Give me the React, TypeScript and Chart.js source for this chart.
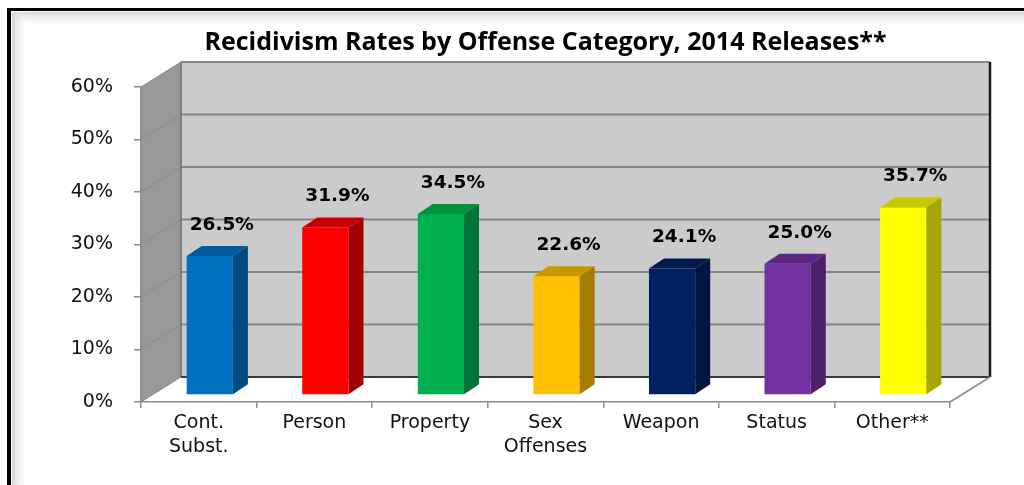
import { useEffect, useRef } from 'react';
import { Chart, registerables } from 'chart.js';

Chart.register(...registerables);

const titleText = 'Recidivism Rates by Offense Category, 2014 Releases**';
const categories: (string | string[])[] = [['Cont.', 'Subst.'], 'Person', 'Property', ['Sex', 'Offenses'], 'Weapon', 'Status', 'Other**'];
const rates = [26.5, 31.9, 34.5, 22.6, 24.1, 25.0, 35.7];
const frontColors = ['#0070C0', '#FF0000', '#00B050', '#FFC000', '#002060', '#7030A0', '#FFFF00'];
const sideColors = ['#004A80', '#A00000', '#007535', '#A67C00', '#00153F', '#4A2069', '#A6A600'];
const topColors = ['#005A9C', '#C40000', '#009040', '#C99700', '#001A50', '#5A2783', '#C8C800'];
const yTicks = [0, 10, 20, 30, 40, 50, 60];

// 3D geometry (pixels)
const WALL_DX = 40;
const WALL_DY = 25;
const BAR_SX = 11;
const BAR_SY = 7;
const BAR_DX = 15;
const BAR_DY = 10;

const poly = (ctx: CanvasRenderingContext2D, pts: number[][]) => {
  ctx.beginPath();
  ctx.moveTo(pts[0][0], pts[0][1]);
  for (let i = 1; i < pts.length; i++) ctx.lineTo(pts[i][0], pts[i][1]);
  ctx.closePath();
};

const threeD = {
  id: 'threeD',
  beforeDraw(chart: any) {
    const { ctx, chartArea: a, scales } = chart;
    const y = scales.y;
    const W = chart.width;
    const H = chart.height;
    ctx.save();
    ctx.fillStyle = '#ffffff';
    ctx.fillRect(0, 0, W, H);
    // inner glow of frame
    const gTop = ctx.createLinearGradient(0, 12, 0, 28);
    gTop.addColorStop(0, '#d6d6d6');
    gTop.addColorStop(1, 'rgba(255,255,255,0)');
    ctx.fillStyle = gTop;
    ctx.fillRect(12, 12, W - 12, 16);
    const gLeft = ctx.createLinearGradient(12, 0, 28, 0);
    gLeft.addColorStop(0, '#d6d6d6');
    gLeft.addColorStop(1, 'rgba(255,255,255,0)');
    ctx.fillStyle = gLeft;
    ctx.fillRect(12, 12, 16, H - 12);
    // black frame lines
    ctx.fillStyle = '#000000';
    ctx.fillRect(7, 8, W - 7, 3);
    ctx.fillRect(7, 8, 4, H - 8);

    const L = a.left;
    const R = a.right;
    const T = y.getPixelForValue(60);
    const B = y.getPixelForValue(0);
    // back wall
    ctx.fillStyle = '#cbcbcb';
    ctx.fillRect(L + WALL_DX, T - WALL_DY, R - L, B - T);
    // side wall
    poly(ctx, [[L, B], [L, T], [L + WALL_DX, T - WALL_DY], [L + WALL_DX, B - WALL_DY]]);
    ctx.fillStyle = '#989898';
    ctx.fill();
    // floor
    poly(ctx, [[L, B], [R, B], [R + WALL_DX, B - WALL_DY], [L + WALL_DX, B - WALL_DY]]);
    ctx.fillStyle = '#ffffff';
    ctx.fill();
    // grid lines
    yTicks.forEach((v) => {
      const py = y.getPixelForValue(v);
      ctx.strokeStyle = '#868686';
      ctx.lineWidth = 2;
      ctx.beginPath();
      ctx.moveTo(L + WALL_DX, py - WALL_DY);
      ctx.lineTo(R + WALL_DX, py - WALL_DY);
      ctx.stroke();
      ctx.strokeStyle = '#8a8a8a';
      ctx.lineWidth = 1;
      ctx.beginPath();
      ctx.moveTo(L, py);
      ctx.lineTo(L + WALL_DX, py - WALL_DY);
      ctx.stroke();
    });
    // back wall edges
    ctx.strokeStyle = '#6e6e6e';
    ctx.lineWidth = 1.5;
    ctx.beginPath();
    ctx.moveTo(L + WALL_DX, T - WALL_DY);
    ctx.lineTo(L + WALL_DX, B - WALL_DY);
    ctx.stroke();
    ctx.strokeStyle = '#1a1a1a';
    ctx.lineWidth = 2.5;
    ctx.beginPath();
    ctx.moveTo(R + WALL_DX, T - WALL_DY);
    ctx.lineTo(R + WALL_DX, B - WALL_DY);
    ctx.stroke();
    ctx.strokeStyle = '#3a3a3a';
    ctx.lineWidth = 2;
    ctx.beginPath();
    ctx.moveTo(L + WALL_DX, B - WALL_DY);
    ctx.lineTo(R + WALL_DX, B - WALL_DY);
    ctx.stroke();
    // floor right edge
    ctx.strokeStyle = '#8c8c8c';
    ctx.lineWidth = 1.5;
    ctx.beginPath();
    ctx.moveTo(R, B);
    ctx.lineTo(R + WALL_DX, B - WALL_DY);
    ctx.stroke();
    ctx.restore();
  },
  beforeDatasetsDraw(chart: any) {
    chart.ctx.save();
    chart.ctx.translate(BAR_SX, -BAR_SY);
  },
  afterDatasetsDraw(chart: any) {
    const ctx = chart.ctx;
    const meta = chart.getDatasetMeta(0);
    meta.data.forEach((bar: any, i: number) => {
      const { x, y, width, base } = bar.getProps(['x', 'y', 'width', 'base'], true);
      const l = x - width / 2;
      const r = x + width / 2;
      poly(ctx, [[r, base], [r, y], [r + BAR_DX, y - BAR_DY], [r + BAR_DX, base - BAR_DY]]);
      ctx.fillStyle = sideColors[i];
      ctx.fill();
      poly(ctx, [[l, y], [r, y], [r + BAR_DX, y - BAR_DY], [l + BAR_DX, y - BAR_DY]]);
      ctx.fillStyle = topColors[i];
      ctx.fill();
    });
    ctx.restore();
    ctx.save();
    ctx.font = 'bold 18.5px "DejaVu Sans"';
    ctx.fillStyle = '#000000';
    ctx.textAlign = 'center';
    ctx.textBaseline = 'middle';
    meta.data.forEach((bar: any, i: number) => {
      const { x, y } = bar.getProps(['x', 'y'], true);
      ctx.fillText(rates[i].toFixed(1) + '%', x + BAR_SX + 12, y - BAR_SY - 31);
    });
    ctx.restore();
  },
};

export default function App() {
  const ref = useRef<HTMLCanvasElement | null>(null);
  useEffect(() => {
    if (!ref.current) return;
    const chart = new Chart(ref.current, {
      type: 'bar',
      data: {
        labels: categories,
        datasets: [
          {
            data: rates,
            backgroundColor: frontColors,
            borderWidth: 0,
            barPercentage: 0.4,
            categoryPercentage: 1,
          },
        ],
      },
      options: {
        animation: false,
        responsive: true,
        maintainAspectRatio: false,
        layout: { padding: { left: 0, right: 74, top: 0, bottom: 0 } },
        plugins: {
          legend: { display: false },
          tooltip: { enabled: false },
          title: {
            display: true,
            text: titleText,
            fullSize: false,
            color: '#000000',
            font: { family: 'Open Sans', weight: 'bold', size: 25, lineHeight: 1.2 },
            padding: { top: 28, bottom: 29 },
          },
        },
        scales: {
          x: {
            grid: { drawOnChartArea: false, drawTicks: true, tickLength: 6, color: '#8c8c8c', lineWidth: 1.5 },
            border: { display: true, color: '#8c8c8c', width: 1.5 },
            ticks: {
              color: '#111111',
              font: { family: 'DejaVu Sans', size: 19, lineHeight: 1.26 },
              padding: 3,
              maxRotation: 0,
              autoSkip: false,
            },
            afterFit: (s: any) => {
              s.height = 83;
            },
          },
          y: {
            min: 0,
            max: 60,
            grid: { drawOnChartArea: false, drawTicks: true, tickLength: 7, color: '#8c8c8c', lineWidth: 1.5 },
            border: { display: true, color: '#8c8c8c', width: 1.5 },
            ticks: {
              stepSize: 10,
              color: '#111111',
              font: { family: 'DejaVu Sans', size: 19 },
              padding: 21,
              callback: (v: any) => v + '%',
            },
            afterFit: (s: any) => {
              s.width = 141;
            },
          },
        },
      },
      plugins: [threeD],
    });
    return () => chart.destroy();
  }, []);
  return (
    <div style={{ position: 'fixed', left: 0, top: 0, width: 1024, height: 485 }}>
      <canvas ref={ref} />
    </div>
  );
}
